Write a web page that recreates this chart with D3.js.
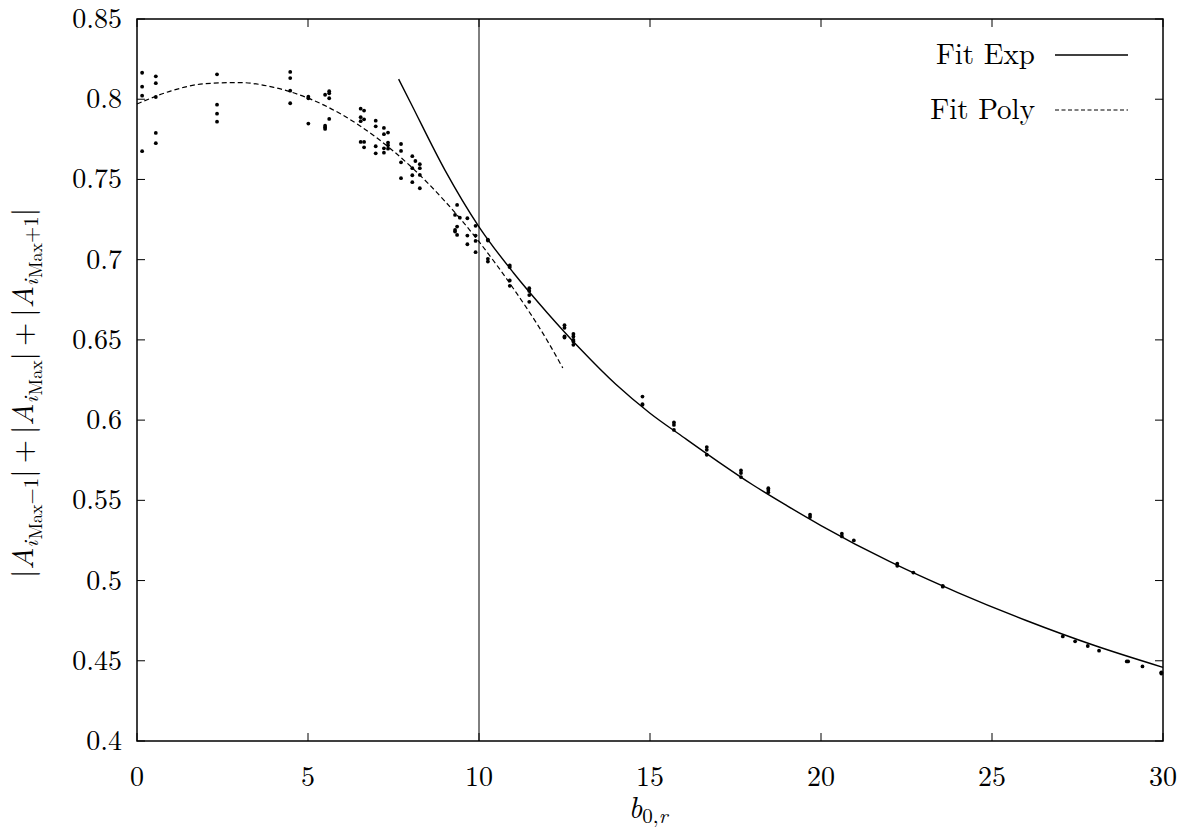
<!DOCTYPE html>
<html>
<head>
<meta charset="utf-8">
<script src="https://cdn.jsdelivr.net/npm/d3@7"></script>
</head>
<body style="margin:0;padding:0;background:#fff;">
<svg id="chart" width="1191" height="832"></svg>
<script>
// ---- data ----
const xTicks = [0, 5, 10, 15, 20, 25, 30];
const yTicks = [0.4, 0.45, 0.5, 0.55, 0.6, 0.65, 0.7, 0.75, 0.8, 0.85];
const yTickLabels = ["0.4", "0.45", "0.5", "0.55", "0.6", "0.65", "0.7", "0.75", "0.8", "0.85"];
const xTickLabels = ["0", "5", "10", "15", "20", "25", "30"];
const verticalMarkerX = 10;
const seriesNames = ["Fit Exp", "Fit Poly"];

// measured points [b, value]
const points = [
  [0.15, 0.8165], [0.15, 0.8078], [0.15, 0.8022], [0.15, 0.7676],
  [0.55, 0.8143], [0.55, 0.8100], [0.55, 0.8014], [0.55, 0.7790], [0.55, 0.7726],
  [2.34, 0.8155], [2.34, 0.7966], [2.34, 0.7910], [2.34, 0.7860],
  [4.48, 0.8170], [4.48, 0.8132], [4.48, 0.8053], [4.48, 0.7975],
  [5.01, 0.8016], [5.01, 0.8006], [5.01, 0.7848],
  [5.50, 0.8028], [5.50, 0.7835], [5.50, 0.7825], [5.50, 0.7815],
  [5.62, 0.8050], [5.62, 0.8037], [5.62, 0.8006], [5.62, 0.7877],
  [6.54, 0.7941], [6.54, 0.7888], [6.54, 0.7863], [6.54, 0.7734],
  [6.64, 0.7929], [6.64, 0.7875], [6.64, 0.7734], [6.64, 0.7700],
  [6.98, 0.7866], [6.98, 0.7831], [6.98, 0.7707], [6.98, 0.7663],
  [7.22, 0.7821], [7.22, 0.7782], [7.22, 0.7694], [7.22, 0.7667],
  [7.34, 0.7792], [7.34, 0.7730], [7.34, 0.7713], [7.34, 0.7692],
  [7.72, 0.7721], [7.72, 0.7678], [7.72, 0.7607], [7.72, 0.7508],
  [8.05, 0.7645], [8.05, 0.7570], [8.05, 0.7526], [8.05, 0.7483],
  [8.14, 0.7615],
  [8.27, 0.7595], [8.27, 0.7570], [8.27, 0.7528], [8.27, 0.7445],
  [9.30, 0.7279], [9.30, 0.7185], [9.30, 0.7175],
  [9.36, 0.7341], [9.36, 0.7206], [9.36, 0.7154],
  [9.44, 0.7262],
  [9.66, 0.7258], [9.66, 0.7150], [9.66, 0.7096],
  [9.90, 0.7211], [9.90, 0.7150], [9.90, 0.7117], [9.90, 0.7047],
  [10.26, 0.7125], [10.26, 0.7119], [10.26, 0.7005], [10.26, 0.6988],
  [10.90, 0.6965], [10.90, 0.6953], [10.90, 0.6870], [10.90, 0.6837],
  [11.47, 0.6822], [11.47, 0.6805], [11.47, 0.6779], [11.47, 0.6737],
  [12.50, 0.6592], [12.50, 0.6575], [12.50, 0.6521], [12.50, 0.6515],
  [12.76, 0.6537], [12.76, 0.6521], [12.76, 0.6500], [12.76, 0.6490], [12.76, 0.6469],
  [14.78, 0.6147], [14.78, 0.6100], [14.78, 0.6095],
  [15.70, 0.5985], [15.70, 0.5970], [15.70, 0.5939],
  [16.66, 0.5832], [16.66, 0.5815], [16.66, 0.5784],
  [17.66, 0.5686], [17.66, 0.5670], [17.66, 0.5645],
  [18.46, 0.5576], [18.46, 0.5565], [18.46, 0.5550],
  [19.68, 0.5410], [19.68, 0.5396],
  [20.61, 0.5292], [20.61, 0.5275],
  [20.96, 0.5250],
  [22.23, 0.5105], [22.23, 0.5092],
  [22.70, 0.5050],
  [23.56, 0.4967], [23.56, 0.4962],
  [27.07, 0.4652],
  [27.43, 0.4621],
  [27.80, 0.4592],
  [28.13, 0.4563],
  [28.94, 0.4496], [28.98, 0.4496],
  [29.40, 0.4465],
  [29.95, 0.4428], [29.95, 0.4420]
];

// fitted curves
const fitExpX = [7.65, 8, 9, 10, 11, 12, 13, 14, 15, 16, 17, 18, 19, 20, 22, 24, 26, 28, 30];
const fitExpY = [0.8125, 0.7978, 0.7560, 0.7205, 0.6920, 0.6668, 0.6435, 0.6223, 0.6043, 0.5890, 0.5740, 0.5597, 0.5467, 0.5343, 0.5119, 0.4925, 0.4751, 0.4595, 0.4459];
const fitPolyX = [0, 1, 2, 3, 4, 5, 6, 7, 8, 9, 10, 11, 12, 12.45];
const fitPolyY = [0.7970, 0.8052, 0.8097, 0.8104, 0.8074, 0.8007, 0.7903, 0.7761, 0.7582, 0.7365, 0.7112, 0.6822, 0.6494, 0.6325];

// ---- layout ----
const FONT = "Latin Modern Roman";
const svg = d3.select("#chart");
const mLeft = 137, mRight = 1163, mTop = 19, mBottom = 741;
const x = d3.scaleLinear().domain([0, 30]).range([mLeft, mRight]);
const y = d3.scaleLinear().domain([0.4, 0.85]).range([mBottom, mTop]);
const tickLen = 8;
const fontSize = 28;

// ticks (mirrored on all sides, pointing inward)
const g = svg.append("g").attr("stroke", "#000").attr("stroke-width", 1);
g.append("g").selectAll("line").data(xTicks).join("line")
  .attr("x1", d => x(d)).attr("x2", d => x(d))
  .attr("y1", mBottom).attr("y2", mBottom - tickLen);
g.append("g").selectAll("line").data(xTicks).join("line")
  .attr("x1", d => x(d)).attr("x2", d => x(d))
  .attr("y1", mTop).attr("y2", mTop + tickLen);
g.append("g").selectAll("line").data(yTicks).join("line")
  .attr("x1", mLeft).attr("x2", mLeft + tickLen)
  .attr("y1", d => y(d)).attr("y2", d => y(d));
g.append("g").selectAll("line").data(yTicks).join("line")
  .attr("x1", mRight).attr("x2", mRight - tickLen)
  .attr("y1", d => y(d)).attr("y2", d => y(d));

// tick labels
svg.append("g").selectAll("text").data(xTicks).join("text")
  .attr("x", d => x(d)).attr("y", 786)
  .attr("text-anchor", "middle")
  .style("font-family", FONT).style("font-size", fontSize + "px")
  .text((d, i) => xTickLabels[i]);
svg.append("g").selectAll("text").data(yTicks).join("text")
  .attr("x", 122).attr("y", d => y(d) + 9)
  .attr("text-anchor", "end")
  .style("font-family", FONT).style("font-size", fontSize + "px")
  .text((d, i) => yTickLabels[i]);

// vertical marker
svg.append("line")
  .attr("x1", x(verticalMarkerX)).attr("x2", x(verticalMarkerX))
  .attr("y1", mTop).attr("y2", mBottom)
  .attr("stroke", "#000").attr("stroke-width", 1);

// curves
const expData = fitExpX.map((v, i) => [v, fitExpY[i]]);
const polyData = fitPolyX.map((v, i) => [v, fitPolyY[i]]);
const lineGen = d3.line().x(d => x(d[0])).y(d => y(d[1])).curve(d3.curveMonotoneX);
svg.append("path").attr("d", lineGen(expData))
  .attr("fill", "none").attr("stroke", "#000").attr("stroke-width", 1.4);
svg.append("path").attr("d", lineGen(polyData))
  .attr("fill", "none").attr("stroke", "#000").attr("stroke-width", 1.2)
  .attr("stroke-dasharray", "5,3");

// points
svg.append("g").selectAll("circle").data(points).join("circle")
  .attr("cx", d => x(d[0])).attr("cy", d => y(d[1]))
  .attr("r", 1.9).attr("fill", "#000");

// frame
svg.append("rect")
  .attr("x", mLeft).attr("y", mTop)
  .attr("width", mRight - mLeft).attr("height", mBottom - mTop)
  .attr("fill", "none").attr("stroke", "#000").attr("stroke-width", 1.5);

// legend
const legY = [55, 110];
const legend = svg.append("g");
seriesNames.forEach((name, i) => {
  legend.append("text")
    .attr("x", 1035).attr("y", legY[i] + 9)
    .attr("text-anchor", "end")
    .style("font-family", FONT).style("font-size", "29px")
    .text(name);
  legend.append("line")
    .attr("x1", 1055).attr("x2", 1128)
    .attr("y1", legY[i]).attr("y2", legY[i])
    .attr("stroke", "#000").attr("stroke-width", i === 0 ? 1.4 : 1.2)
    .attr("stroke-dasharray", i === 0 ? null : "4,2.5");
});

// x axis title: b_{0,r}
const xt = svg.append("text")
  .attr("x", 648).attr("y", 818)
  .attr("text-anchor", "middle")
  .style("font-family", FONT).style("font-size", "30px");
xt.append("tspan").style("font-style", "italic").text("b");
xt.append("tspan").attr("dy", 5).style("font-size", "21px").text("0,");
xt.append("tspan").style("font-size", "21px").style("font-style", "italic").text("r");

// y axis title: |A_{i_Max-1}| + |A_{i_Max}| + |A_{i_Max+1}|
const yt = svg.append("text")
  .attr("transform", "translate(33,393) rotate(-90)")
  .attr("text-anchor", "middle")
  .style("font-family", FONT).style("font-size", "30px");
function addTerm(sfx, first) {
  yt.append("tspan").text(first ? "|" : "\u2009+\u2009|");
  yt.append("tspan").style("font-style", "italic").text("A");
  yt.append("tspan").attr("dy", 5).style("font-size", "21px").style("font-style", "italic").text("i");
  yt.append("tspan").attr("dx", 1.5).attr("dy", 4).style("font-size", "18px").text("Max");
  if (sfx) {
    yt.append("tspan").attr("dy", -4).style("font-size", "21px").text(sfx);
    yt.append("tspan").attr("dy", -5).text("|");
  } else {
    yt.append("tspan").attr("dy", -9).text("|");
  }
}
addTerm("\u22121", true);
addTerm("", false);
addTerm("+1", false);
</script>
</body>
</html>
